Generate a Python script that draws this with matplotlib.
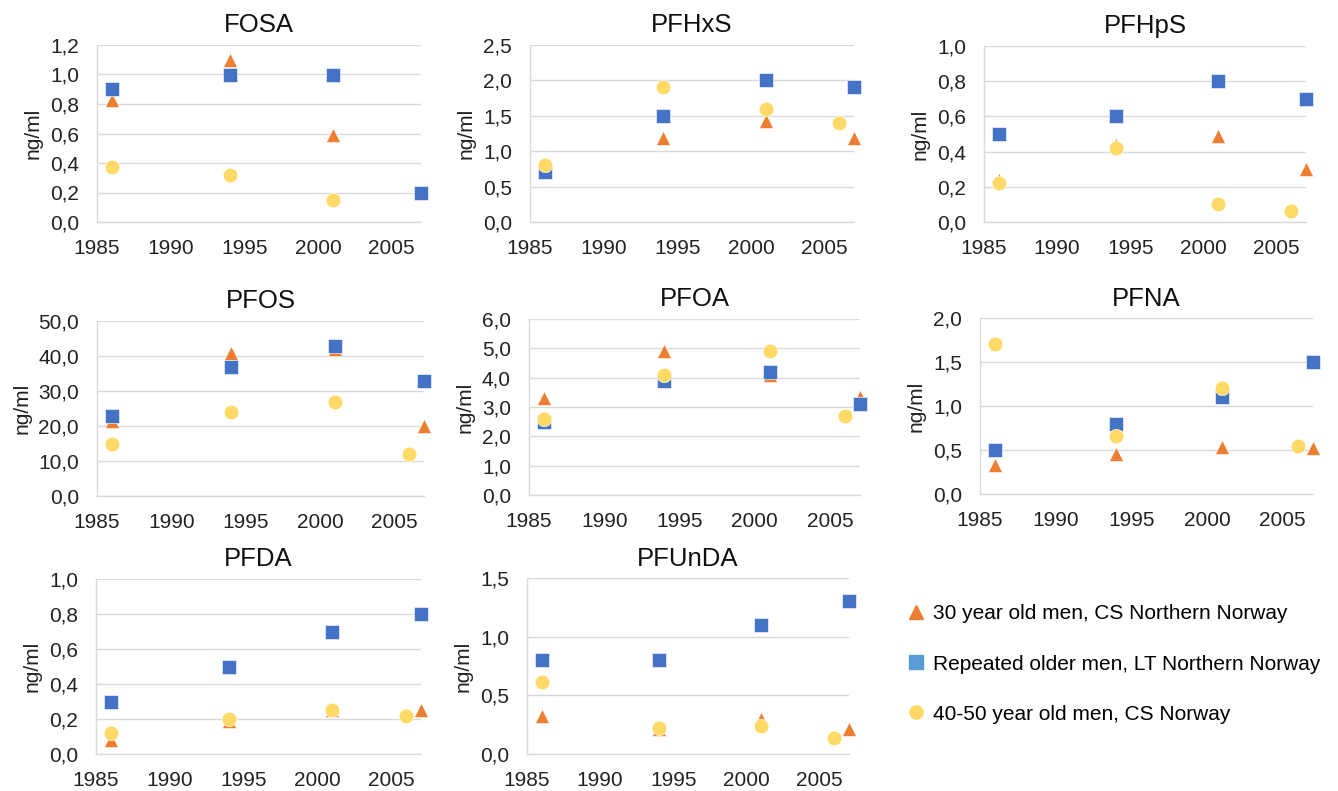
import numpy as np
import matplotlib
matplotlib.use("Agg")
import matplotlib.pyplot as plt
from matplotlib.lines import Line2D
from matplotlib.ticker import FuncFormatter, MultipleLocator

plt.rcParams["font.family"] = ["Liberation Sans", "DejaVu Sans"]

# survey years
years_ns = [1986, 1994, 2001, 2007]   # northern Norway studies
years_cs = [1986, 1994, 2001, 2006]   # 40-50 year old men, CS Norway

series_labels = ["30 year old men, CS Northern Norway",
                 "Repeated older men, LT Northern Norway",
                 "40-50 year old men, CS Norway"]

compounds = ["FOSA", "PFHxS", "PFHpS", "PFOS", "PFOA", "PFNA", "PFDA", "PFUnDA"]

nan = np.nan
men30 = {
    "FOSA":   [0.83, 1.10, 0.59, nan],
    "PFHxS":  [0.72, 1.18, 1.42, 1.19],
    "PFHpS":  [0.24, 0.44, 0.49, 0.30],
    "PFOS":   [21.5, 41.0, 42.0, 20.0],
    "PFOA":   [3.3, 4.9, 4.1, 3.35],
    "PFNA":   [0.33, 0.45, 0.53, 0.52],
    "PFDA":   [0.08, 0.19, 0.25, 0.25],
    "PFUnDA": [0.32, 0.21, 0.30, 0.21],
}
older = {
    "FOSA":   [0.90, 1.00, 1.00, 0.20],
    "PFHxS":  [0.70, 1.50, 2.00, 1.90],
    "PFHpS":  [0.50, 0.60, 0.80, 0.70],
    "PFOS":   [23.0, 37.0, 43.0, 33.0],
    "PFOA":   [2.5, 3.9, 4.2, 3.1],
    "PFNA":   [0.50, 0.80, 1.10, 1.50],
    "PFDA":   [0.30, 0.50, 0.70, 0.80],
    "PFUnDA": [0.80, 0.80, 1.10, 1.30],
}
men4050 = {
    "FOSA":   [0.37, 0.32, 0.15, nan],
    "PFHxS":  [0.80, 1.90, 1.60, 1.40],
    "PFHpS":  [0.22, 0.42, 0.10, 0.06],
    "PFOS":   [15.0, 24.0, 27.0, 12.0],
    "PFOA":   [2.6, 4.1, 4.9, 2.7],
    "PFNA":   [1.70, 0.66, 1.20, 0.55],
    "PFDA":   [0.12, 0.20, 0.25, 0.22],
    "PFUnDA": [0.61, 0.22, 0.24, 0.14],
}

ymax = {"FOSA": 1.2, "PFHxS": 2.5, "PFHpS": 1.0, "PFOS": 50, "PFOA": 6,
        "PFNA": 2.0, "PFDA": 1.0, "PFUnDA": 1.5}
ystep = {"FOSA": 0.2, "PFHxS": 0.5, "PFHpS": 0.2, "PFOS": 10, "PFOA": 1,
         "PFNA": 0.5, "PFDA": 0.2, "PFUnDA": 0.5}

W, H = 1338, 791
# axes boxes in pixels: left, top, right, bottom
boxes = {
    "FOSA":   (97, 45, 421, 222),
    "PFHxS":  (530, 45, 854, 222),
    "PFHpS":  (984, 46, 1306, 222),
    "PFOS":   (97, 321, 424, 496),
    "PFOA":   (529, 319, 860, 495),
    "PFNA":   (980, 318, 1313, 494),
    "PFDA":   (96, 579, 421, 754),
    "PFUnDA": (527, 578, 849, 754),
}

c_tri = "#ED7D31"
c_sq = "#4472C4"
c_circ = "#FFD966"

fig = plt.figure(figsize=(W / 100, H / 100), dpi=100)

comma = FuncFormatter(lambda v, p: f"{v:.1f}".replace(".", ","))

for name in compounds:
    l, t, r, b = boxes[name]
    ax = fig.add_axes([l / W, 1 - b / H, (r - l) / W, (b - t) / H])
    ax.plot(years_ns, men30[name], "^", color=c_tri, ms=10.5, mec="white",
            mew=0.4, clip_on=False, zorder=3)
    ax.plot(years_ns, older[name], "s", color=c_sq, ms=10.5, mec="white",
            mew=0.4, clip_on=False, zorder=4)
    ax.plot(years_cs, men4050[name], "o", color=c_circ, ms=10.5, mec="white",
            mew=0.4, clip_on=False, zorder=5)
    ax.set_xlim(1985, 2007)
    ax.set_ylim(0, ymax[name])
    ax.xaxis.set_major_locator(MultipleLocator(5))
    ax.yaxis.set_major_locator(MultipleLocator(ystep[name]))
    ax.yaxis.set_major_formatter(comma)
    ax.grid(axis="y", color="#D9D9D9", lw=1)
    ax.set_axisbelow(True)
    for s in ("top", "right"):
        ax.spines[s].set_visible(False)
    for s in ("left", "bottom"):
        ax.spines[s].set_color("#D9D9D9")
        ax.spines[s].set_linewidth(1)
    ax.tick_params(length=0, labelsize=15, colors="#222222")
    ax.tick_params(axis="y", pad=13)
    ax.tick_params(axis="x", pad=12)
    ax.set_title(name, fontsize=18.5, pad=9, color="#111111")
    ax.set_ylabel("ng/ml", fontsize=15, color="#222222", labelpad=5)

handles = [
    Line2D([], [], ls="none", marker="^", color=c_tri, ms=9.5),
    Line2D([], [], ls="none", marker="s", color="#5B9BD5", ms=9.5),
    Line2D([], [], ls="none", marker="o", color=c_circ, ms=9.5),
]
fig.legend(handles, series_labels, loc="center left",
           bbox_to_anchor=(885 / W, 1 - 664 / H), frameon=False,
           fontsize=15, labelspacing=1.5, handletextpad=0.2,
           handlelength=1.2)

fig.savefig("out.png", dpi=100)
